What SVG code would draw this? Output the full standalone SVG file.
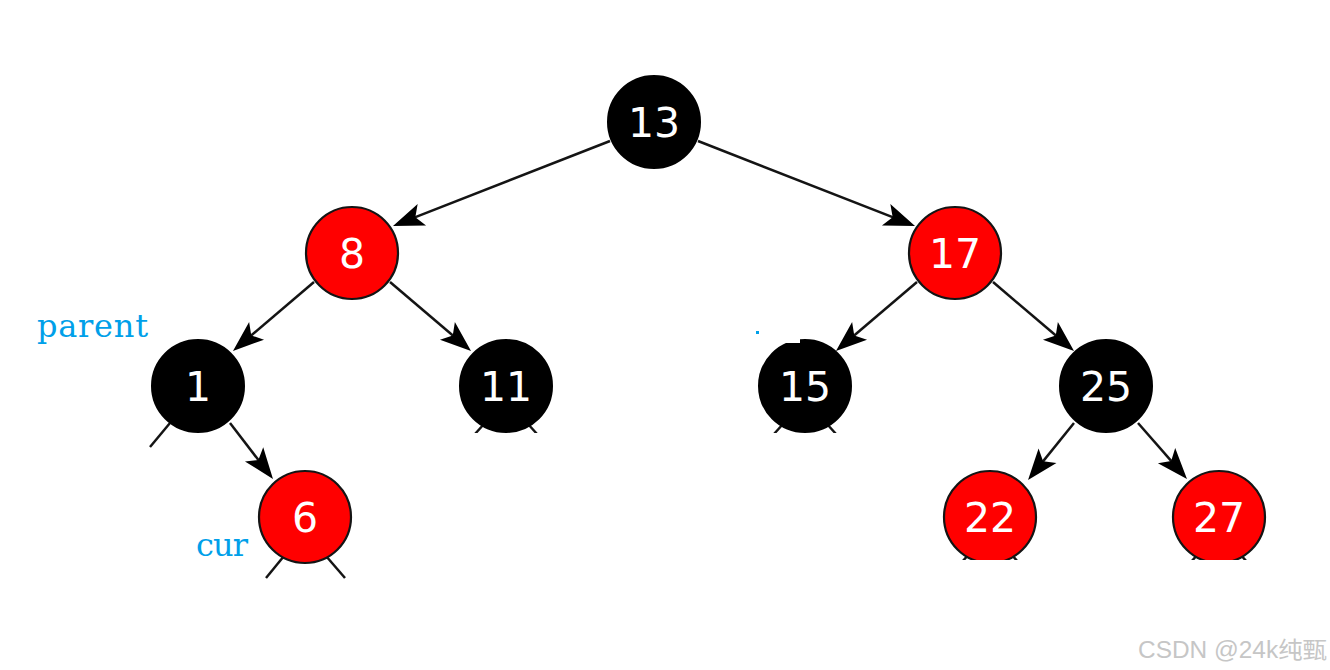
<svg xmlns="http://www.w3.org/2000/svg" width="1330" height="670" viewBox="0 0 1330 670">
<style>
.edge{stroke:#141414;stroke-width:2.5;fill:none}
.stub{stroke:#141414;stroke-width:2.5;fill:none}
.blk{fill:#000;stroke:#000;stroke-width:2}
.red{fill:#ff0000;stroke:#141414;stroke-width:2.2}
.num{font-family:"DejaVu Sans",sans-serif;font-size:41px;fill:#fff;text-anchor:middle}
.lbl{font-family:"DejaVu Serif","Liberation Serif",serif;font-size:32px;fill:#00a0e9}
.wm{font-family:"Liberation Sans","Noto Sans CJK SC",sans-serif;font-size:23px;fill:#c6c6c6}
</style>
<defs>
<marker id="arr" markerUnits="userSpaceOnUse" viewBox="-32 -13 34 26" refX="-20" refY="0" markerWidth="34" markerHeight="26" orient="auto">
<path d="M0,0 L-31,-11.5 L-24,0 L-31,11.5 Z" fill="#000"/>
</marker>
</defs>
<rect width="1330" height="670" fill="#fff"/>
<g id="connectors">
<line class="edge" x1="610" y1="141" x2="411.6" y2="218.7" marker-end="url(#arr)"/>
<line class="edge" x1="698" y1="141" x2="896.4" y2="218.7" marker-end="url(#arr)"/>
<line class="edge" x1="314" y1="282" x2="248.2" y2="338" marker-end="url(#arr)"/>
<line class="edge" x1="390" y1="282" x2="455.8" y2="338" marker-end="url(#arr)"/>
<line class="edge" x1="917" y1="282" x2="851.2" y2="338" marker-end="url(#arr)"/>
<line class="edge" x1="993" y1="282" x2="1058.8" y2="338" marker-end="url(#arr)"/>
<line class="edge" x1="230" y1="423" x2="260.8" y2="463.1" marker-end="url(#arr)"/>
<line class="edge" x1="1074" y1="423" x2="1040.6" y2="464.4" marker-end="url(#arr)"/>
<line class="edge" x1="1138" y1="423" x2="1173.8" y2="463.9" marker-end="url(#arr)"/>
<line class="stub" x1="170" y1="423" x2="150" y2="447"/>
<line class="stub" x1="484" y1="424" x2="475" y2="434"/>
<line class="stub" x1="528" y1="424" x2="537" y2="434"/>
<line class="stub" x1="783" y1="424" x2="774" y2="434"/>
<line class="stub" x1="827" y1="424" x2="836" y2="434"/>
<line class="stub" x1="284" y1="556" x2="266" y2="578"/>
<line class="stub" x1="326" y1="556" x2="345" y2="578"/>
<line class="stub" x1="969" y1="554" x2="962" y2="562"/>
<line class="stub" x1="1011" y1="554" x2="1018" y2="562"/>
<line class="stub" x1="1198" y1="554" x2="1191" y2="562"/>
<line class="stub" x1="1240" y1="554" x2="1247" y2="562"/>
</g>
<g id="n13"><circle class="blk" cx="654" cy="122" r="46"/><text class="num" x="654" y="137">13</text></g>
<g id="n8"><circle class="red" cx="352" cy="253" r="46"/><text class="num" x="352" y="268">8</text></g>
<g id="n17"><circle class="red" cx="955" cy="253" r="46"/><text class="num" x="955" y="268">17</text></g>
<g id="n1"><circle class="blk" cx="198" cy="386" r="46"/><text class="num" x="198" y="401">1</text></g>
<g id="n11"><circle class="blk" cx="506" cy="386" r="46"/><text class="num" x="506" y="401">11</text></g>
<g id="n15"><circle class="blk" cx="805" cy="386" r="46"/><text class="num" x="805" y="401">15</text></g>
<g id="n25"><circle class="blk" cx="1106" cy="386" r="46"/><text class="num" x="1106" y="401">25</text></g>
<g id="n6"><circle class="red" cx="305" cy="517" r="46"/><text class="num" x="305" y="532">6</text></g>
<g id="n22"><circle class="red" cx="990" cy="517" r="46"/><text class="num" x="990" y="532">22</text></g>
<g id="n27"><circle class="red" cx="1219" cy="517" r="46"/><text class="num" x="1219" y="532">27</text></g>
<g id="masks" fill="#fff">
<rect x="440" y="433" width="420" height="14"/>
<rect x="940" y="560" width="330" height="16"/>
<rect x="765" y="326" width="35" height="17"/>
</g>
<rect x="756" y="331" width="3" height="3" fill="#00a0e9"/>
<g id="labels">
<text class="lbl" x="37" y="337" textLength="111" lengthAdjust="spacing">parent</text>
<text class="lbl" x="196" y="556" textLength="52" lengthAdjust="spacing">cur</text>
</g>
<text class="wm" x="1138" y="658" textLength="189" lengthAdjust="spacingAndGlyphs">CSDN @24k纯甄</text>
</svg>
